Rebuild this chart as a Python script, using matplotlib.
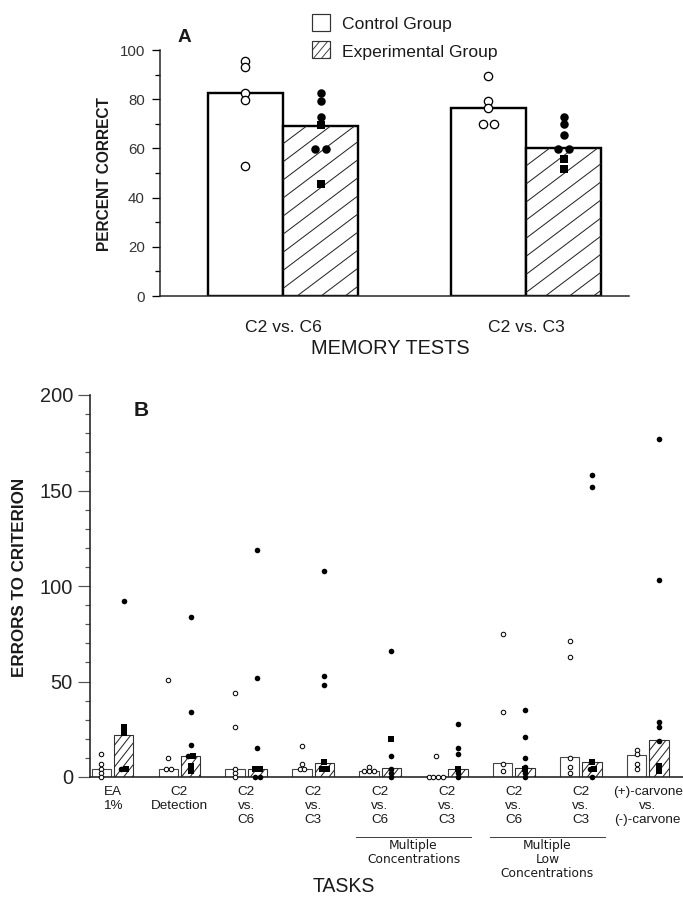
import numpy as np
import matplotlib
matplotlib.use("Agg")
import matplotlib.pyplot as plt
from matplotlib.patches import Rectangle
from matplotlib.collections import LineCollection
from matplotlib.ticker import MultipleLocator
from matplotlib.transforms import ScaledTranslation, blended_transform_factory, IdentityTransform
from collections import OrderedDict

# ---------------- Panel A data ----------------
memory_tests = ["C2 vs. C6", "C2 vs. C3"]
a_control_bar = [82.5, 76.3]
a_exp_bar = [69.2, 60.2]
a_control_pts = [[95.5, 93.0, 82.6, 79.7, 52.8], [89.4, 79.4, 76.3, 69.8, 69.8]]
a_exp_circles = [[82.6, 79.4, 72.9, 59.6, 59.6], [72.6, 69.8, 65.4, 59.8, 59.8]]
a_exp_squares = [[69.5, 45.4], [55.5, 51.5]]
a_yticks = [0, 20, 40, 60, 80, 100]
legend_labels = ["Control Group", "Experimental Group"]

# ---------------- Panel B data ----------------
tasks = ["EA\n1%", "C2\nDetection", "C2\nvs.\nC6", "C2\nvs.\nC3", "C2\nvs.\nC6",
         "C2\nvs.\nC3", "C2\nvs.\nC6", "C2\nvs.\nC3", "(+)-carvone\nvs.\n(-)-carvone"]
b_control_bar = [4, 4, 4, 4, 3, 0, 7.5, 10.3, 11.3]
b_exp_bar = [22, 11, 4, 7.5, 4.5, 4, 4.5, 8, 19.4]
b_control_pts = [[12, 7, 4, 2, 0], [51, 10, 4, 4], [44, 26, 4, 2, 0], [16, 7, 4, 4],
                 [5, 3, 3, 3], [11, 0, 0, 0, 0], [75, 34, 7, 3], [71, 63, 10, 5, 2],
                 [14, 12, 7, 4]]
b_exp_circles = [[92, 4], [84, 34, 17, 11], [119, 52, 15, 0, 0], [108, 53, 48],
                 [66, 11, 4, 2, 0], [28, 15, 12, 2, 0], [35, 21, 10, 5, 2, 0],
                 [158, 152, 4, 0], [177, 103, 29, 26, 19]]
b_exp_squares = [[26, 23, 4], [11, 6, 3], [4, 4], [8, 4, 4], [20], [4], [4], [8, 4], [6, 3]]
b_yticks = [0, 50, 100, 150, 200]
task_groups = [("Multiple\nConcentrations", 4, 5), ("Multiple\nLow\nConcentrations", 6, 7)]

# ---------------- setup ----------------
DPI = 150
W, H = 684, 902
plt.rcParams["font.family"] = ["Liberation Sans", "DejaVu Sans"]


def pt(px):
    return px * 72.0 / DPI


def fx(px):
    return px / W


def fy(py):
    return 1 - py / H


fig = plt.figure(figsize=(W / DPI, H / DPI), dpi=DPI)
TXT = "#1a1a1a"


def spread(items, step):
    groups = OrderedDict()
    for v, k in items:
        groups.setdefault(round(v, 1), []).append((v, k))
    out = []
    for key, lst in groups.items():
        n = len(lst)
        for i, (v, k) in enumerate(lst):
            out.append(((i - (n - 1) / 2) * step, v, k))
    return out


def hatch_lines(patch, angle, hspace, lw, color, container, z):
    ext = patch.get_window_extent()
    x0, y0, x1, y1 = ext.x0, ext.y0, ext.x1, ext.y1
    if y1 - y0 < 0.5:
        return
    dx = (y1 - y0) / np.tan(np.radians(angle))
    segs = []
    c = x0 - dx - hspace
    while c < x1 + hspace:
        segs.append([(c, y0), (c + dx, y1)])
        c += hspace
    lc = LineCollection(segs, colors=color, linewidths=lw, transform=IdentityTransform(),
                        zorder=z)
    if hasattr(container, "add_collection"):
        container.add_collection(lc, autolim=False)
    else:
        container.add_artist(lc)
    lc.set_clip_path(patch)


# ================= Panel A =================
axA = fig.add_axes([fx(160), fy(296), (629 - 160) / W, 246 / H])
xa = np.arange(len(memory_tests))
bwA = 0.31
axA.set_xlim(-0.506, 1.424)
axA.set_ylim(0, 100)
axA.bar(xa - bwA / 2, a_control_bar, bwA, facecolor="white", edgecolor="black",
        linewidth=pt(2.4), zorder=2)
barsA = axA.bar(xa + bwA / 2, a_exp_bar, bwA, facecolor="white", edgecolor="black",
                linewidth=pt(2.4), zorder=2)
for p in barsA:
    hatch_lines(p, 37, 24, pt(1.0), "#222222", axA, 2.5)

stepA = 0.046
for i in range(len(memory_tests)):
    for dx, v, k in spread([(v, "o") for v in a_control_pts[i]], stepA):
        axA.plot(xa[i] - bwA / 2 + dx, v, "o", ms=pt(8.3), mfc="white", mec="black",
                 mew=pt(1.3), zorder=4, clip_on=False)
    items = [(v, "o") for v in a_exp_circles[i]] + [(v, "s") for v in a_exp_squares[i]]
    for dx, v, k in spread(items, stepA):
        axA.plot(xa[i] + bwA / 2 + dx, v, k, ms=pt(8.5) if k == "o" else pt(7.5),
                 mfc="black", mec="black", mew=0, zorder=4, clip_on=False)

axA.set_yticks(a_yticks)
axA.yaxis.set_minor_locator(MultipleLocator(10))
axA.set_xticks(xa)
axA.set_xticklabels(memory_tests, fontsize=pt(17.5), color=TXT)
for lab in axA.get_xticklabels():
    lab.set_transform(lab.get_transform() + ScaledTranslation(-17 / DPI, 0, fig.dpi_scale_trans))
axA.tick_params(axis="x", length=0, pad=pt(24))
axA.tick_params(axis="y", which="major", length=pt(8), width=pt(1.3), pad=pt(7),
                labelsize=pt(15), labelcolor="#333333")
axA.tick_params(axis="y", which="minor", length=pt(5), width=pt(1.3))
for s in ["top", "right"]:
    axA.spines[s].set_visible(False)
for s in ["left", "bottom"]:
    axA.spines[s].set_linewidth(pt(1.5))
    axA.spines[s].set_color("#222222")

fig.text(fx(105), fy(174), "PERCENT CORRECT", rotation=90, ha="center", va="center",
         fontsize=pt(15.5), fontweight="bold", color=TXT)
fig.text(fx(390), fy(348), "MEMORY TESTS", ha="center", va="center",
         fontsize=pt(20), color=TXT)
fig.text(fx(184), fy(38), "A", ha="center", va="center", fontsize=pt(19),
         fontweight="bold", color=TXT)

# legend
box_tops = [14, 41]
text_y = [25, 52]
for j, (lab, bt, ty) in enumerate(zip(legend_labels, box_tops, text_y)):
    r = Rectangle((fx(312), fy(bt + 17)), 18 / W, 17 / H, transform=fig.transFigure,
                  facecolor="white", edgecolor="#333333", linewidth=pt(1.2), zorder=5)
    fig.add_artist(r)
    if j == 1:
        hatch_lines(r, 50, 8, pt(0.9), "#333333", fig, 6)
    fig.text(fx(342), fy(ty), lab, ha="left", va="center", fontsize=pt(17.5), color=TXT)

# ================= Panel B =================
axB = fig.add_axes([fx(90), fy(777), (684 - 90) / W, 382 / H])
xb = np.arange(len(tasks))
bwB = 0.29
offB = 0.167
axB.set_xlim(-0.336, 8.543)
axB.set_ylim(0, 200)
axB.bar(xb - offB, b_control_bar, bwB, facecolor="white", edgecolor="#444444",
        linewidth=pt(1.1), zorder=2)
barsB = axB.bar(xb + offB, b_exp_bar, bwB, facecolor="white", edgecolor="#333333",
                linewidth=pt(1.1), zorder=2)
for p in barsB:
    hatch_lines(p, 52, 8.5, pt(1.0), "#222222", axB, 2.5)

stepB = 0.072
for i in range(len(tasks)):
    for dx, v, k in spread([(v, "o") for v in b_control_pts[i]], stepB):
        axB.plot(xb[i] - offB + dx, v, "o", ms=pt(4.5), mfc="white", mec="black",
                 mew=pt(1.0), zorder=4, clip_on=False)
    items = [(v, "o") for v in b_exp_circles[i]] + [(v, "s") for v in b_exp_squares[i]]
    for dx, v, k in spread(items, stepB):
        axB.plot(xb[i] + offB + dx, v, k, ms=pt(5.6) if k == "o" else pt(6.2),
                 mfc="black", mec="black", mew=0, zorder=4, clip_on=False)

axB.set_yticks(b_yticks)
axB.yaxis.set_minor_locator(MultipleLocator(10))
axB.set_xticks(xb)
axB.set_xticklabels(tasks, fontsize=pt(13.5), color=TXT, linespacing=1.22)
axB.tick_params(axis="x", length=0, pad=pt(9))
axB.tick_params(axis="y", which="major", length=pt(12), width=pt(1.2), pad=pt(5),
                labelsize=pt(20), labelcolor="#222222", color="#555555")
axB.tick_params(axis="y", which="minor", length=pt(5), width=pt(1.2), color="#555555")
for s in ["top", "right"]:
    axB.spines[s].set_visible(False)
for s in ["left", "bottom"]:
    axB.spines[s].set_linewidth(pt(1.6))
    axB.spines[s].set_color("#222222")

blend = blended_transform_factory(axB.transData, fig.transFigure)
for lab, g0, g1 in task_groups:
    axB.plot([g0 - 0.36, g1 + 0.36], [fy(837), fy(837)], transform=blend, color="#444444",
             lw=pt(1.0), clip_on=False)
    axB.text((g0 + g1) / 2, fy(839), lab, transform=blend, ha="center", va="top",
             fontsize=pt(12.3), family="DejaVu Sans", color=TXT, linespacing=1.1)

fig.text(fx(20), fy(577), "ERRORS TO CRITERION", rotation=90, ha="center", va="center",
         fontsize=pt(17), fontweight="bold", color=TXT)
fig.text(fx(344), fy(886), "TASKS", ha="center", va="center", fontsize=pt(19.5), color=TXT)
fig.text(fx(141), fy(411), "B", ha="center", va="center", fontsize=pt(21),
         fontweight="bold", color=TXT)

fig.savefig("out.png", dpi=DPI, facecolor="white")
